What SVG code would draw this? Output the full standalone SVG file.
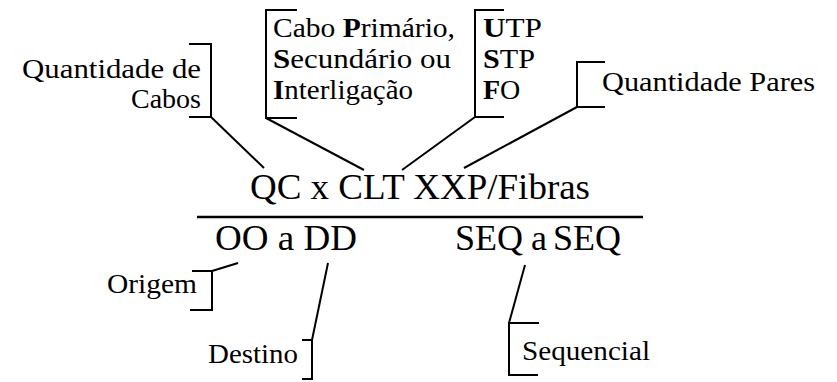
<svg xmlns="http://www.w3.org/2000/svg" width="837" height="382" viewBox="0 0 837 382">
<style>
text{font-family:"Liberation Serif","Times New Roman",serif;fill:#000}
.s{font-size:28px}
.m{font-size:36px}
.b{font-weight:bold}
.br{fill:none;stroke:#000;stroke-width:2}
.cn{fill:none;stroke:#000;stroke-width:2}
</style>
<rect width="837" height="382" fill="#fff"/>
<g id="formula">
<text class="m" x="250" y="199" textLength="340" lengthAdjust="spacingAndGlyphs">QC x CLT XXP/Fibras</text>
<line x1="197" y1="217" x2="643" y2="217" stroke="#000" stroke-width="2.5"/>
<text class="m" x="215" y="250" textLength="142" lengthAdjust="spacingAndGlyphs">OO a DD</text>
<text class="m" y="250"><tspan x="455">SEQ</tspan><tspan x="531">a</tspan><tspan x="553">SEQ</tspan></text>
</g>
<g id="qtd-cabos">
<text class="s" x="22" y="78" textLength="179" lengthAdjust="spacingAndGlyphs">Quantidade de</text>
<text class="s" x="131" y="108">Cabos</text>
<polyline class="br" points="189,44 211,44 211,117 189,117"/>
</g>
<g id="tipo-cabo">
<text class="s" x="273" y="37" textLength="182" lengthAdjust="spacingAndGlyphs">Cabo <tspan class="b">P</tspan>rimário,</text>
<text class="s" x="273" y="68" textLength="178" lengthAdjust="spacingAndGlyphs"><tspan class="b">S</tspan>ecundário ou</text>
<text class="s" x="273" y="99" textLength="140" lengthAdjust="spacingAndGlyphs"><tspan class="b">I</tspan>nterligação</text>
<polyline class="br" points="297,10 266,10 266,118 297,118"/>
</g>
<g id="tipo-par">
<text class="s" x="483" y="37" textLength="59" lengthAdjust="spacingAndGlyphs"><tspan class="b">U</tspan>TP</text>
<text class="s" x="483" y="68" textLength="52" lengthAdjust="spacingAndGlyphs"><tspan class="b">S</tspan>TP</text>
<text class="s" x="483" y="99"><tspan class="b">F</tspan>O</text>
<polyline class="br" points="504,10 475,10 475,117 504,117"/>
</g>
<g id="qtd-pares">
<text class="s" x="602" y="91" textLength="213" lengthAdjust="spacingAndGlyphs">Quantidade Pares</text>
<polyline class="br" points="605,62 577,62 577,107 605,107"/>
</g>
<g id="origem">
<text class="s" x="107" y="293" textLength="90" lengthAdjust="spacingAndGlyphs">Origem</text>
<polyline class="br" points="192,271 212,271 212,310 190,310"/>
</g>
<g id="destino">
<text class="s" x="208" y="363" textLength="90" lengthAdjust="spacingAndGlyphs">Destino</text>
<polyline class="br" points="302,340 312,340 312,379 302,379"/>
</g>
<g id="sequencial">
<text class="s" x="522" y="360" textLength="128" lengthAdjust="spacingAndGlyphs">Sequencial</text>
<polyline class="br" points="539,323 509,323 509,375 538,375"/>
</g>
<g id="connectors">
<line class="cn" x1="211" y1="117" x2="264" y2="168"/>
<line class="cn" x1="266" y1="118" x2="364" y2="170"/>
<line class="cn" x1="475" y1="117" x2="402" y2="170"/>
<line class="cn" x1="577" y1="107" x2="464" y2="168"/>
<line class="cn" x1="212" y1="271" x2="238" y2="263"/>
<line class="cn" x1="312" y1="340" x2="328" y2="263"/>
<line class="cn" x1="509" y1="323" x2="525" y2="265"/>
</g>
</svg>
